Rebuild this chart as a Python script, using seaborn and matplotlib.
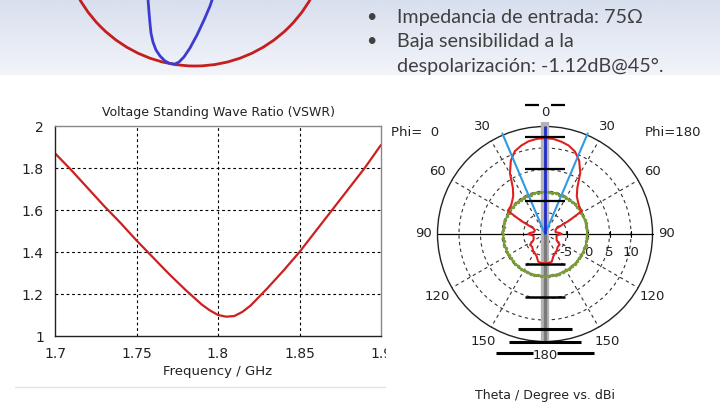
import numpy as np
import pandas as pd
import seaborn as sns
import matplotlib.pyplot as plt
from matplotlib.patches import Circle, Rectangle
from matplotlib.colors import LinearSegmentedColormap
from matplotlib.lines import Line2D

# ---- datos VSWR
freq_ghz = [1.70, 1.71, 1.72, 1.73, 1.74, 1.75, 1.76, 1.77, 1.78, 1.79, 1.795, 1.80,
            1.805, 1.81, 1.815, 1.82, 1.83, 1.84, 1.85, 1.86, 1.87, 1.88, 1.89, 1.90]
vswr = [1.87, 1.79, 1.705, 1.62, 1.54, 1.455, 1.375, 1.295, 1.22, 1.15, 1.122, 1.100,
        1.092, 1.095, 1.115, 1.145, 1.225, 1.31, 1.40, 1.50, 1.60, 1.70, 1.80, 1.91]
freq_ticks = [1.7, 1.75, 1.8, 1.85, 1.9]
freq_labels = ['1.7', '1.75', '1.8', '1.85', '1.9']
vswr_ticks = [1, 1.2, 1.4, 1.6, 1.8, 2]
vswr_labels = ['1', '1.2', '1.4', '1.6', '1.8', '2']

# ---- diagrama de radiacion (theta en grados, dBi)
theta_deg = [0, 5, 10, 15, 20, 25, 30, 35, 40, 45, 50, 55, 58, 61, 64, 70, 80, 86, 90,
             94, 100, 110, 117, 126, 135, 146, 155, 160, 166, 172, 180]
gain_phi0 = [12.3, 12.2, 11.9, 11.3, 10.5, 8.8, 6.3, 3.0, 1.5, 0.8, 0.3, 0.2, 0.2, -3.5,
             -7.0, -7.5, -7.4, -6.5, -6.1, -6.8, -7.3, -7.2, -7.0, -5.7, -5.8, -5.1,
             -4.8, -4.4, -3.4, -3.2, -3.2]
gain_phi180 = [12.3, 12.2, 11.8, 11.3, 10.4, 8.8, 6.4, 3.1, 1.5, 0.8, 0.3, 0.1, 0.2, -3.6,
               -7.0, -7.4, -7.5, -6.6, -6.1, -6.9, -7.3, -7.1, -7.0, -5.8, -5.8, -5.2,
               -4.8, -4.4, -3.4, -3.2, -3.2]
xpol_theta = [0, 5, 10, 15, 20, 25, 30, 35, 40, 45, 50, 55, 60, 65, 70, 75, 80, 85, 90,
              95, 100, 105, 110, 115, 120, 125, 130, 135, 140, 145, 150, 155, 160, 165,
              170, 175, 180]
xpol_gain = [-0.2, -0.3, -0.2, -0.2, -0.3, -0.2, -0.2, -0.3, -0.2, -0.2, -0.3, -0.2, -0.2,
             -0.3, -0.2, -0.2, -0.3, -0.2, -0.2, -0.3, -0.2, -0.2, -0.3, -0.2, -0.2, -0.3,
             -0.2, -0.2, -0.3, -0.2, -0.2, -0.3, -0.2, -0.2, -0.3, -0.2, -0.2]
r_min_db, r_max_db = -10, 15
ring_db = [-5, 0, 5, 10]
spoke_deg = [30, 60, 120, 150]
theta_ticks = [0, 30, 60, 90, 120, 150, 180]
main_lobe_deg = 0
beam_half_deg = 23

# marcas horizontales sobre el eje vertical (radio con signo, semiancho, hueco, grosor)
bar_r = [30.0, 22.6, 15.1, 7.7, -7.0, -14.6, -22.2, -25.1, -27.7]
bar_half = [4.65, 4.65, 4.65, 4.65, 4.65, 4.65, 6.3, 8.4, 11.4]
bar_gap = [1.4, 0, 0, 0, 0, 0, 0, 0, 2.8]
bar_lw = [1.6, 1.6, 1.6, 1.6, 1.8, 1.8, 2.2, 2.2, 2.2]

# ---- carta de Smith (coeficiente de reflexion)
smith_re = [-0.368, -0.353, -0.346, -0.338, -0.331, -0.316, -0.293, -0.263, -0.226,
            -0.188, -0.150, -0.120, -0.083, -0.038, 0.015, 0.068, 0.113, 0.128, 0.165]
smith_im = [-0.391, -0.504, -0.594, -0.684, -0.752, -0.820, -0.880, -0.925, -0.962,
            -0.982, -0.985, -0.970, -0.932, -0.865, -0.767, -0.654, -0.549, -0.504, -0.414]

bullets = ['Impedancia de entrada: 75\u03a9',
           'Baja sensibilidad a la',
           'despolarizaci\u00f3n: -1.12dB@45\u00b0.']
bullet_marks = [True, True, False]

sns.set_style('white')
plt.rcParams['font.family'] = ['DejaVu Sans']

W, H = 720, 405
fig = plt.figure(figsize=(7.2, 4.05), dpi=100)


def fx(px):
    return px / W


def fy(py):
    return 1 - py / H


# ---- franja superior con degradado y carta de Smith
ax_s = fig.add_axes([0, fy(75), 1, 75 / H])
sx = (-195 / 133, 525 / 133)
sy = (-142 / 133, -67 / 133)
cmap = LinearSegmentedColormap.from_list('band', ['#d8dfee', '#f2f4f9'])
ax_s.imshow(np.linspace(0, 1, 64).reshape(-1, 1), cmap=cmap, aspect='auto',
            extent=[sx[0], sx[1], sy[0], sy[1]], origin='upper', zorder=0)
ax_s.add_patch(Circle((0, 0), 1, fill=False, color='#c41e1e', lw=2, zorder=2))
ax_s.plot(smith_re, smith_im, color='#3b3bd2', lw=2, zorder=3)
ax_s.set_xlim(*sx)
ax_s.set_ylim(*sy)
ax_s.axis('off')

for i, line in enumerate(bullets):
    py = 17 + 24.5 * i
    if bullet_marks[i]:
        fig.text(fx(366), fy(py), '\u2022', fontsize=13, color='#404040',
                 ha='left', va='center', family=['Lato', 'DejaVu Sans'])
    fig.text(fx(397), fy(py), line, fontsize=14.2, color='#404040',
             ha='left', va='center', family=['Lato', 'DejaVu Sans'])

# ---- VSWR
ax = fig.add_axes([fx(55), fy(336), 326 / W, 210 / H])
df = pd.DataFrame({'Frequency / GHz': freq_ghz, 'VSWR': vswr})
sns.lineplot(data=df, x='Frequency / GHz', y='VSWR', ax=ax, color='#cc2020', lw=1.6)
ax.set_xlim(1.7, 1.9)
ax.set_ylim(1, 2)
ax.set_xticks(freq_ticks)
ax.set_xticklabels(freq_labels)
ax.set_yticks(vswr_ticks)
ax.set_yticklabels(vswr_labels)
for t in freq_ticks[1:-1]:
    ax.axvline(t, color='black', lw=0.8, ls=(0, (2.5, 2.5)), zorder=1)
for t in vswr_ticks[1:-1]:
    ax.axhline(t, color='black', lw=0.8, ls=(0, (2.5, 2.5)), zorder=1)
ax.tick_params(direction='out', length=4, width=0.8, labelsize=10, pad=4,
               colors='black', labelcolor='#222222')
for side in ['left', 'bottom']:
    ax.spines[side].set_color('#222222')
    ax.spines[side].set_linewidth(1)
for side in ['top', 'right']:
    ax.spines[side].set_color('#888888')
    ax.spines[side].set_linewidth(1)
ax.set_title('Voltage Standing Wave Ratio (VSWR)', fontsize=9, pad=7, color='#222222')
ax.set_xlabel('Frequency / GHz', fontsize=9.5, labelpad=3, color='#222222')
ax.set_ylabel('')

fig.add_artist(Rectangle((fx(385.5), fy(372)), 12 / W, 32 / H, transform=fig.transFigure,
                         facecolor='white', edgecolor='none', zorder=5))
fig.add_artist(Line2D([fx(15), fx(385)], [fy(387), fy(387)], color='#e4e4e4', lw=1))

# ---- diagrama polar
u = 4.3  # px por dB
cx, cy = 545, 234
ax_p = fig.add_axes([fx(395), fy(370), 305 / W, 272 / H])
ax_p.set_xlim((395 - cx) / u, (700 - cx) / u)
ax_p.set_ylim((cy - 370) / u, (cy - 98) / u)
ax_p.axis('off')
R = r_max_db - r_min_db

dash = (0, (3, 3))
for g in ring_db:
    ax_p.add_patch(Circle((0, 0), g - r_min_db, fill=False, color='#333333', lw=0.8, ls=dash))
ax_p.add_patch(Circle((0, 0), R, fill=False, color='#222222', lw=1))
for a in spoke_deg:
    t = np.deg2rad(a)
    for s in (-1, 1):
        ax_p.plot([0, s * R * np.sin(t)], [0, R * np.cos(t)], color='#333333', lw=0.8, ls=dash)
ax_p.plot([-R, R], [0, 0], color='black', lw=0.9)
for g in ring_db:
    ax_p.plot([g - r_min_db] * 2, [-0.6, 0.6], color='black', lw=0.8)

# franja gris del eje vertical
ax_p.plot([0, 0], [-25.2, 26], color='#b4b4b4', lw=6, solid_capstyle='butt', zorder=3)
ax_p.plot([0, 0], [-25.2, 0], color='#7a7a7a', lw=2.4, solid_capstyle='butt', zorder=3)


def to_xy(theta, gain, side):
    t = np.deg2rad(np.asarray(theta, dtype=float))
    r = np.asarray(gain, dtype=float) - r_min_db
    return side * r * np.sin(t), r * np.cos(t)


xl, yl = to_xy(xpol_theta, xpol_gain, -1)
xr, yr = to_xy(xpol_theta, xpol_gain, 1)
for x_, y_ in [(xl, yl), (xr, yr)]:
    ax_p.plot(x_, y_, color='#7b9a3a', lw=1.4, marker='.', ms=3, zorder=4)

xl, yl = to_xy(theta_deg, gain_phi0, -1)
xr, yr = to_xy(theta_deg, gain_phi180, 1)
ax_p.plot(xl, yl, color='#e02020', lw=1.5, zorder=5)
ax_p.plot(xr, yr, color='#e02020', lw=1.5, zorder=5)

# direccion del lobulo principal y ancho de haz a -3 dB
tb = np.deg2rad(beam_half_deg)
for s in (-1, 1):
    ax_p.plot([0, s * 25.4 * np.sin(tb)], [0, 25.4 * np.cos(tb)], color='#2e9be0', lw=1.5, zorder=6)
ax_p.plot([0, 0], [0, R], color='#1f2ccc', lw=2, zorder=7, solid_capstyle='butt')

for r, hw, gap, lw in zip(bar_r, bar_half, bar_gap, bar_lw):
    if gap:
        ax_p.plot([-hw, -gap], [r, r], color='black', lw=lw, zorder=8, solid_capstyle='butt')
        ax_p.plot([gap, hw], [r, r], color='black', lw=lw, zorder=8, solid_capstyle='butt')
    else:
        ax_p.plot([-hw, hw], [r, r], color='black', lw=lw, zorder=8, solid_capstyle='butt')

for a in theta_ticks:
    rl = 28.2 if a in (0, 90, 180) else 28.9
    t = np.deg2rad(a)
    sides = (1,) if a in (0, 180) else (-1, 1)
    for s in sides:
        ax_p.text(s * rl * np.sin(t), rl * np.cos(t), str(a), fontsize=9.5,
                  ha='center', va='center', color='#222222', zorder=9)
for g in ring_db:
    ax_p.text(g - r_min_db, -4.2, str(g), fontsize=9.5, ha='center', va='center',
              color='#222222', zorder=9)

fig.text(fx(415), fy(133), 'Phi=  0', fontsize=9.5, ha='center', va='center', color='#222222')
fig.text(fx(673), fy(133), 'Phi=180', fontsize=9.5, ha='center', va='center', color='#222222')
fig.text(fx(545), fy(395), 'Theta / Degree vs. dBi', fontsize=9, ha='center', va='center',
         color='#222222')

fig.savefig('out.png', dpi=100)
